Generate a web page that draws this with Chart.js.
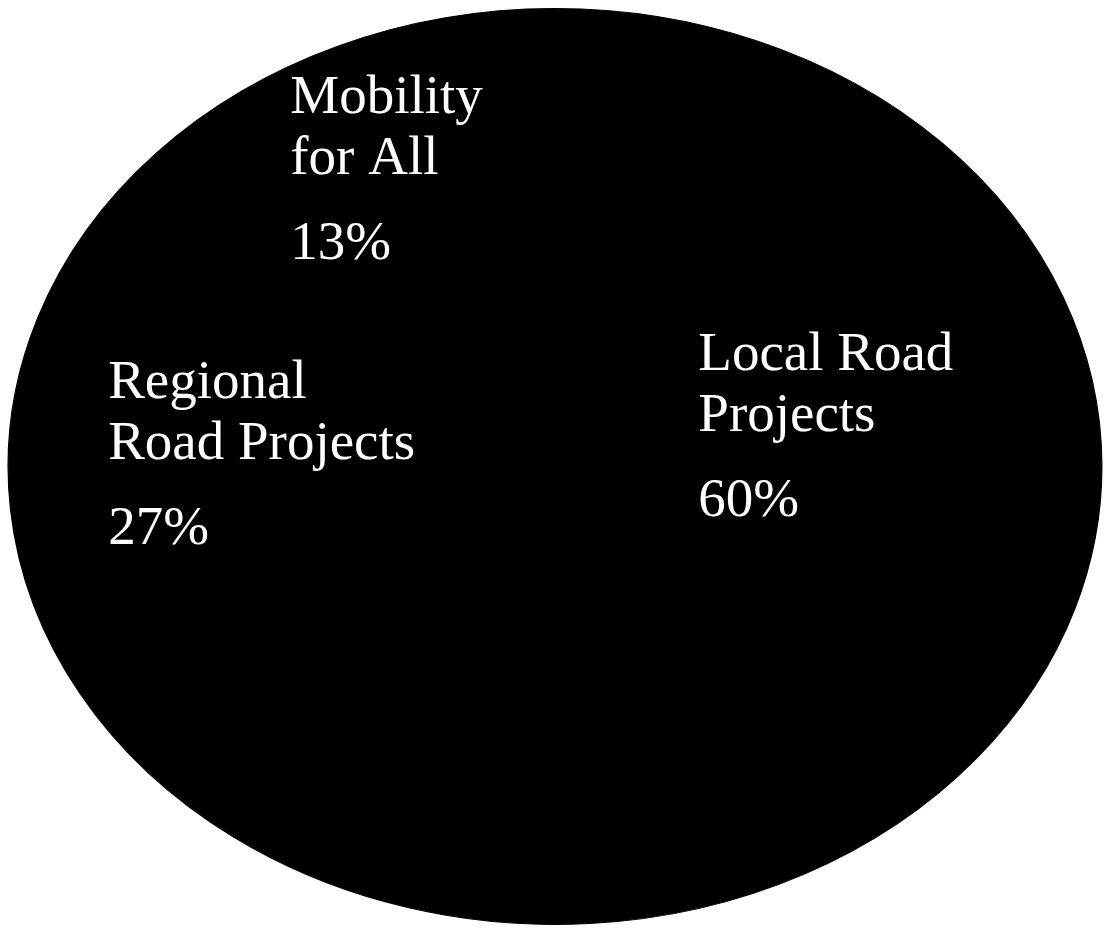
<!DOCTYPE html>
<html>
<head>
<meta charset="utf-8">
<script src="https://cdn.jsdelivr.net/npm/chart.js@4"></script>
<style>
  html, body { margin: 0; padding: 0; background: #fff; }
  #wrap { width: 1110px; height: 930px; position: relative; }
</style>
</head>
<body>
<div id="wrap"><canvas id="graficoPizza"></canvas></div>
<script>
// dados
let categorias = [
    ["Local Road", "Projects"],
    ["Regional", "Road Projects"],
    ["Mobility", "for All"]
]
let valores = [60, 27, 13]
let cores = ['#000', '#000', '#000']

// onde cada texto fica (fração do raio, em relação ao centro)
let posTextos = [
    { x: 0.262, y: -0.210 },
    { x: -0.817, y: -0.150 },
    { x: -0.484, y: -0.772 }
]

// o "bolo" original é oval: estica na horizontal
const esticaX = 1095 / 917

const ovalPlugin = {
    id: 'oval',
    beforeDatasetsDraw(chart) {
        const arc = chart.getDatasetMeta(0).data[0]
        const ctx = chart.ctx
        ctx.save()
        ctx.translate(arc.x, arc.y)
        ctx.scale(esticaX, 1)
        ctx.translate(-arc.x, -arc.y)
    },
    afterDatasetsDraw(chart) {
        chart.ctx.restore()

        const ctx = chart.ctx
        const arc = chart.getDatasetMeta(0).data[0]
        const ry = arc.outerRadius
        const rx = ry * esticaX
        const total = valores.reduce((a, b) => a + b, 0)

        ctx.save()
        ctx.fillStyle = '#fff'
        ctx.font = '55px "Liberation Serif", serif'
        ctx.textAlign = 'left'
        ctx.textBaseline = 'alphabetic'
        categorias.forEach((linhas, i) => {
            let x = arc.x + posTextos[i].x * rx
            let y = arc.y + posTextos[i].y * ry
            linhas.forEach((l, j) => {
                ctx.fillText(l, x, y + j * 61)
            })
            let pct = Math.round(valores[i] / total * 100) + '%'
            ctx.fillText(pct, x, y + (linhas.length - 1) * 61 + 85)
        })
        ctx.restore()
    }
}

var ctx = document.getElementById('graficoPizza').getContext('2d')
var graficoPizza = new Chart(ctx, {
    type: 'pie',
    data: {
        labels: categorias.map(c => c.join(' ')),
        datasets: [
            {
                data: valores,
                backgroundColor: cores,
                borderColor: '#000',
                borderWidth: 1
            }
        ]
    },
    options: {
        responsive: true,
        maintainAspectRatio: false,
        animation: false,
        layout: { padding: { top: 8, bottom: 5, left: 0, right: 0 } },
        plugins: {
            legend: { display: false },
            tooltip: { enabled: false }
        }
    },
    plugins: [ovalPlugin]
})
</script>
</body>
</html>
